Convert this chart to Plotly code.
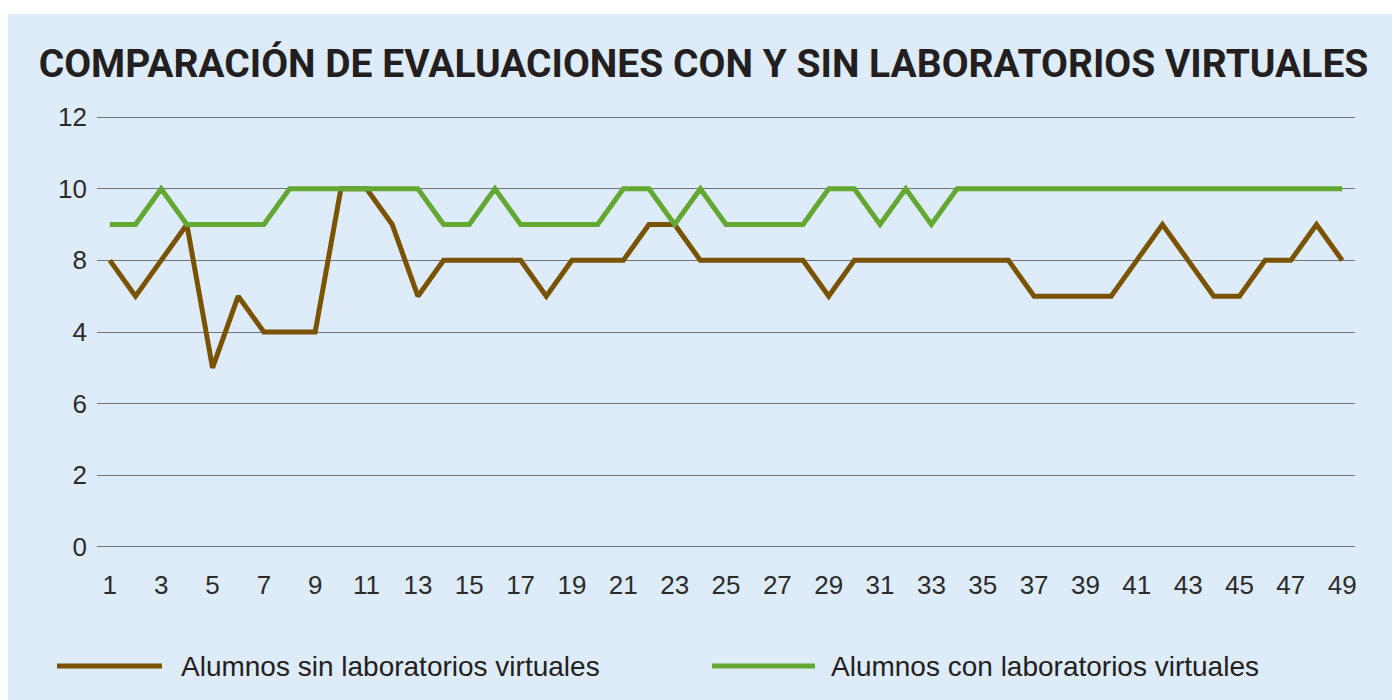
import plotly.graph_objects as go

# ---- data ----
alumnos = list(range(1, 50))
sin_lab = [8, 7, 8, 9, 5, 7, 6, 6, 6, 10,
           10, 9, 7, 8, 8, 8, 8, 7, 8, 8,
           8, 9, 9, 8, 8, 8, 8, 8, 7, 8,
           8, 8, 8, 8, 8, 8, 7, 7, 7, 7,
           8, 9, 8, 7, 7, 8, 8, 9, 8]
con_lab = [9, 9, 10, 9, 9, 9, 9, 10, 10, 10,
           10, 10, 10, 9, 9, 10, 9, 9, 9, 9,
           10, 10, 9, 10, 9, 9, 9, 9, 10, 10,
           9, 10, 9, 10, 10, 10, 10, 10, 10, 10,
           10, 10, 10, 10, 10, 10, 10, 10, 10]
y_tickvals = [0, 2, 4, 6, 8, 10, 12]
y_ticktext = ["0", "2", "6", "4", "8", "10", "12"]
x_tickvals = list(range(1, 50, 2))
series_names = ["Alumnos sin laboratorios virtuales", "Alumnos con laboratorios virtuales"]
title_text = "COMPARACIÓN DE EVALUACIONES CON Y SIN LABORATORIOS VIRTUALES"

BROWN = "#7A5300"
GREEN = "#63A832"
BG = "#DEEBF8"

W, H = 1400, 700
L, R, T, B = 89, 53, 108, 160
PW, PH = W - L - R, H - T - B


def px_x(px):
    return (px - L) / PW


def px_y(py):
    return (H - B - py) / PH


fig = go.Figure()
fig.add_trace(go.Scatter(x=alumnos, y=sin_lab, mode="lines", name=series_names[0],
                         line=dict(color=BROWN, width=5), showlegend=False))
fig.add_trace(go.Scatter(x=alumnos, y=con_lab, mode="lines", name=series_names[1],
                         line=dict(color=GREEN, width=5), showlegend=False))

tick_font = dict(family="Helvetica Neue, Liberation Sans, Arial, sans-serif", size=26, color="#2b2b2b")

fig.update_layout(
    width=W, height=H,
    margin=dict(l=L, r=R, t=T, b=B),
    paper_bgcolor=BG, plot_bgcolor=BG,
    title=dict(text=f"<b>{title_text}</b>", x=695.5 / W, xanchor="center", xref="container",
               y=1 - 55 / H, yanchor="middle", yref="container",
               font=dict(family="Roboto, Liberation Sans, Arial, sans-serif", size=39, color="#231f20")),
    xaxis=dict(range=[0.5, 49.5], tickmode="array", tickvals=x_tickvals,
               ticktext=[str(v) for v in x_tickvals], showgrid=False, zeroline=False,
               showline=False, ticks="", tickfont=tick_font, ticklabelstandoff=19),
    yaxis=dict(range=[-0.03, 12.03], tickmode="array", tickvals=y_tickvals, ticktext=y_ticktext,
               showgrid=True, gridcolor="#6f737a", gridwidth=1, zeroline=False,
               showline=False, ticks="", tickfont=tick_font, ticklabelstandoff=9),
    showlegend=False,
)

shapes = []
# white page strip at top
shapes.append(dict(type="rect", xref="paper", yref="paper", x0=px_x(-5), x1=px_x(W + 5),
                   y0=px_y(6), y1=px_y(-5), fillcolor="white", line=dict(width=0), layer="below"))
# legend keys
ly = px_y(658)
shapes.append(dict(type="line", xref="paper", yref="paper", x0=px_x(49), x1=px_x(154), y0=ly, y1=ly,
                   line=dict(color=BROWN, width=5)))
shapes.append(dict(type="line", xref="paper", yref="paper", x0=px_x(704), x1=px_x(807), y0=ly, y1=ly,
                   line=dict(color=GREEN, width=5)))
fig.update_layout(shapes=shapes)

leg_font = dict(family="Helvetica Neue, Liberation Sans, Arial, sans-serif", size=28, color="#231f20")
fig.add_annotation(x=px_x(171), y=ly, xref="paper", yref="paper", text=series_names[0],
                   showarrow=False, xanchor="left", yanchor="middle", font=leg_font)
fig.add_annotation(x=px_x(821), y=ly, xref="paper", yref="paper", text=series_names[1],
                   showarrow=False, xanchor="left", yanchor="middle", font=leg_font)

fig.write_html("out.html")
